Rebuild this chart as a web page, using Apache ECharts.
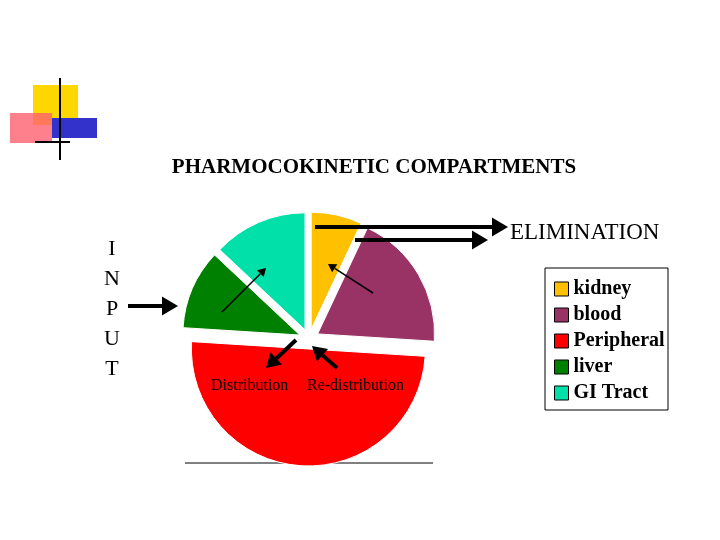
<!DOCTYPE html>
<html><head><meta charset="utf-8">
<script src="https://cdn.jsdelivr.net/npm/echarts@6/dist/echarts.min.js"></script>
<style>html,body{margin:0;padding:0;background:#fff}#c{width:720px;height:540px}</style>
</head><body><div id="c"></div>
<script>
const categories = ['kidney','blood','Peripheral','liver','GI Tract'];
const values = [7, 19, 50, 11, 13];
const colors = ['#FFC000','#993366','#FF0000','#008000','#00E0A8'];

function arrow(x1,y1,x2,y2,w,head){
  const a=Math.atan2(y2-y1,x2-x1), L=head, W=head*0.6;
  const bx=x2-L*Math.cos(a), by=y2-L*Math.sin(a);
  return [
    {type:'line',shape:{x1:x1,y1:y1,x2:bx,y2:by},style:{stroke:'#000',lineWidth:w},z:10},
    {type:'polygon',shape:{points:[[x2,y2],[bx+W*Math.sin(a),by-W*Math.cos(a)],[bx-W*Math.sin(a),by+W*Math.cos(a)]]},style:{fill:'#000'},z:10}
  ];
}
const serif='"Liberation Serif","DejaVu Serif",serif';
const graphic=[
  {type:'rect',shape:{x:33,y:85,width:45,height:40},style:{fill:'#FFD700'}},
  {type:'rect',shape:{x:10,y:113,width:42,height:30},style:{fill:'#FF6070',opacity:0.8}},
  {type:'rect',shape:{x:52,y:118,width:45,height:20},style:{fill:'#3333CC'}},
  {type:'line',shape:{x1:60,y1:78,x2:60,y2:160},style:{stroke:'#000',lineWidth:2}},
  {type:'line',shape:{x1:35,y1:142,x2:70,y2:142},style:{stroke:'#000',lineWidth:2}},
  {type:'text',style:{x:374,y:168,text:'PHARMOCOKINETIC COMPARTMENTS',font:'bold 21px '+serif,fill:'#000',align:'center',verticalAlign:'middle'}},
  {type:'text',style:{x:510,y:233,text:'ELIMINATION',font:'23px '+serif,fill:'#000',verticalAlign:'middle'}},
  {type:'text',style:{x:112,y:309,text:'I\nN\nP\nU\nT',font:'22px '+serif,fill:'#000',align:'center',verticalAlign:'middle',lineHeight:30}},
  {type:'text',style:{x:211,y:386,text:'Distribution',font:'16px '+serif,fill:'#000',verticalAlign:'middle'},z:10},
  {type:'text',style:{x:307,y:386,text:'Re-distribution',font:'16px '+serif,fill:'#000',verticalAlign:'middle'},z:10},
  {type:'line',shape:{x1:185,y1:463,x2:433,y2:463},style:{stroke:'#000',lineWidth:1}},
  {type:'rect',shape:{x:545,y:268,width:123,height:142},style:{fill:'none',stroke:'#000',lineWidth:1}},
  ...arrow(315,227,508,227,4,16),
  ...arrow(355,240,488,240,4,16),
  ...arrow(128,306,178,306,4,16),
  ...arrow(296,340,266,368,4,14),
  ...arrow(337,368,312,346,4,14),
  ...arrow(222,312,266,268,1.5,8),
  ...arrow(373,293,328,264,1.5,8)
];
const chart=echarts.init(document.getElementById('c'));
chart.setOption({
  animation:false,
  color:colors,
  legend:{orient:'vertical',left:549,top:274,icon:'rect',itemWidth:14,itemHeight:14,itemGap:6,
    itemStyle:{borderColor:'#000',borderWidth:1},
    textStyle:{fontFamily:serif,fontWeight:'bold',fontSize:20,color:'#000'},data:categories},
  graphic:graphic,
  series:[{type:'pie',center:[309,339],radius:[0,117],startAngle:90,clockwise:true,
    selectedMode:'multiple',selectedOffset:10,label:{show:false},labelLine:{show:false},
    itemStyle:{borderColor:'#fff',borderWidth:1},
    data:categories.map((n,i)=>({name:n,value:values[i],selected:true}))}]
});
</script></body></html>
